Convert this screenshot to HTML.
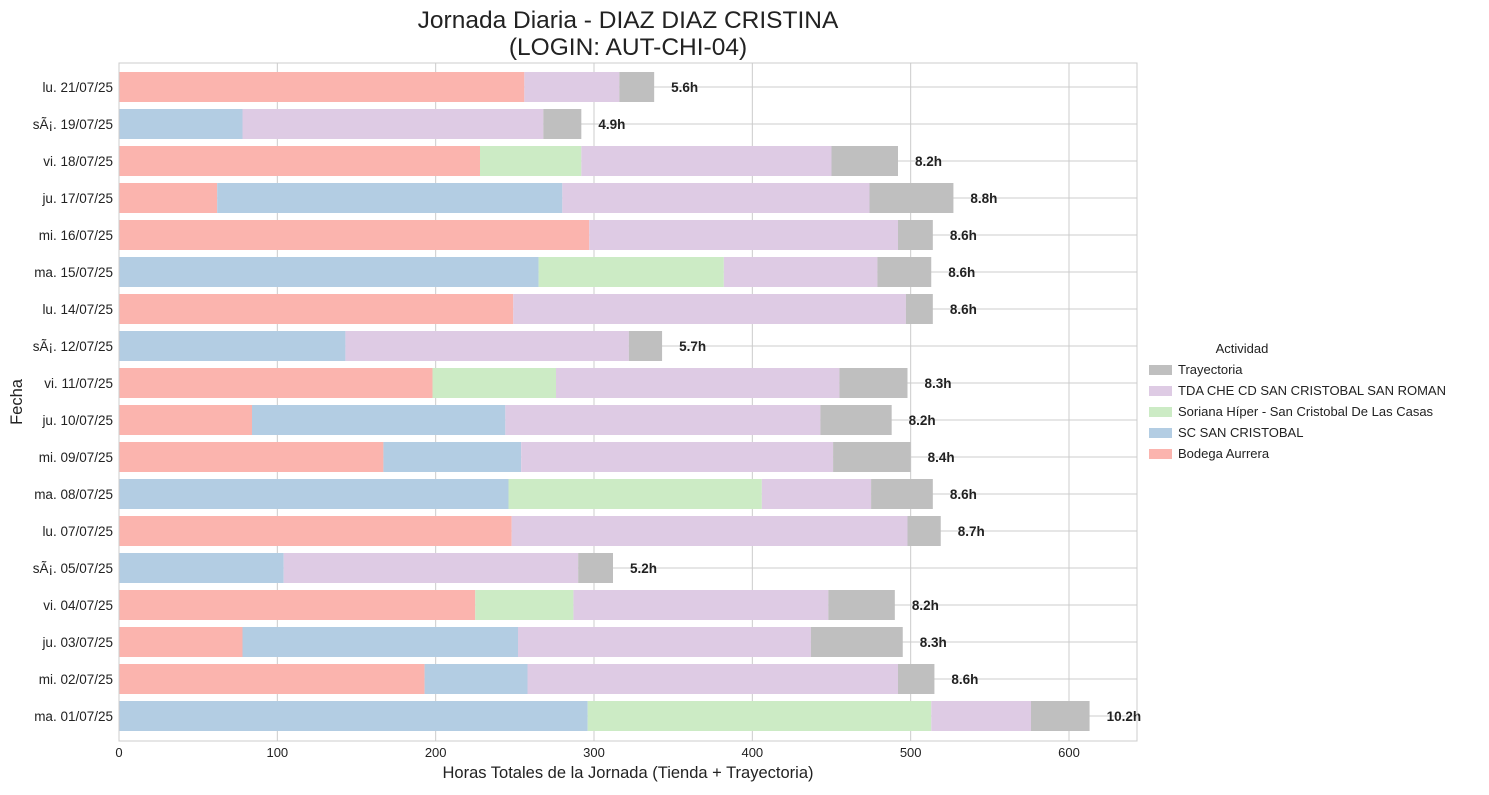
<!DOCTYPE html>
<html><head><meta charset="utf-8"><style>
body{margin:0;background:#fff;font-family:"Liberation Sans","DejaVu Sans",sans-serif;}
svg text{font-family:"Liberation Sans","DejaVu Sans",sans-serif;}
</style></head><body>
<svg id="chart" width="1489" height="790" xmlns="http://www.w3.org/2000/svg">
<rect x="0" y="0" width="1489" height="790" fill="#fff"/>
<text x="628" y="28" font-size="24.5" text-anchor="middle" fill="#222">Jornada Diaria - DIAZ DIAZ CRISTINA</text>
<text x="628" y="55" font-size="24.5" text-anchor="middle" fill="#222">(LOGIN: AUT-CHI-04)</text>
<g id="grid"></g>
<g id="bars"></g>
<g id="axes"></g>
<text x="628" y="778" font-size="16.5" text-anchor="middle" fill="#222">Horas Totales de la Jornada (Tienda + Trayectoria)</text>
<text x="22" y="402" font-size="16.5" text-anchor="middle" fill="#222" transform="rotate(-90 22 402)">Fecha</text>
<g id="legend"></g>
</svg>
<script>
const categories=["lu. 21/07/25","sÃ¡. 19/07/25","vi. 18/07/25","ju. 17/07/25","mi. 16/07/25","ma. 15/07/25","lu. 14/07/25","sÃ¡. 12/07/25","vi. 11/07/25","ju. 10/07/25","mi. 09/07/25","ma. 08/07/25","lu. 07/07/25","sÃ¡. 05/07/25","vi. 04/07/25","ju. 03/07/25","mi. 02/07/25","ma. 01/07/25"];
const bodega=[256,0,228,62,297,0,249,0,198,84,167,0,248,0,225,78,193,0];
const scSan=[0,78,0,218,0,265,0,143,0,160,87,246,0,104,0,174,65,296];
const soriana=[0,0,64,0,0,117,0,0,78,0,0,160,0,0,62,0,0,217];
const tdaChe=[60,190,158,194,195,97,248,179,179,199,197,69,250,186,161,185,234,63];
const trayectoria=[22,24,42,53,22,34,17,21,43,45,49,39,21,22,42,58,23,37];
const totalLabels=["5.6h","4.9h","8.2h","8.8h","8.6h","8.6h","8.6h","5.7h","8.3h","8.2h","8.4h","8.6h","8.7h","5.2h","8.2h","8.3h","8.6h","10.2h"];
const xTicks=[0,100,200,300,400,500,600];
const seriesNames=["Bodega Aurrera","SC SAN CRISTOBAL","Soriana Híper - San Cristobal De Las Casas","TDA CHE CD SAN CRISTOBAL SAN ROMAN","Trayectoria"];
const seriesColors=["#fbb4ae","#b3cde3","#ccebc5","#decbe4","#bfbfbf"];
const seriesData=[bodega,scSan,soriana,tdaChe,trayectoria];
const NS="http://www.w3.org/2000/svg";
const L=119,R=1137,T=63,B=741;
const xs=v=>L+v*(950/600);
const rowStep=37,firstY=87,barH=30;
const ys=i=>firstY+i*rowStep;
function mk(tag,attrs,parent){const e=document.createElementNS(NS,tag);for(const k in attrs)e.setAttribute(k,attrs[k]);parent.appendChild(e);return e;}
const grid=document.getElementById('grid'),bars=document.getElementById('bars'),axes=document.getElementById('axes'),legend=document.getElementById('legend');
xTicks.forEach(t=>{
 const l=mk('line',{x1:xs(t),x2:xs(t),y1:T,y2:B,stroke:'#cccccc','stroke-width':1},grid);
 
 
 const tx=mk('text',{x:xs(t),y:B+16,'font-size':13,'text-anchor':'middle',fill:'#222'},axes);
 tx.textContent=t;
 
 
});
categories.forEach((c,i)=>{
 const l=mk('line',{x1:L,x2:R,y1:ys(i),y2:ys(i),stroke:'#cccccc','stroke-width':1},grid);
 
 
 const tx=mk('text',{x:113,y:ys(i)+5,'font-size':13.5,'text-anchor':'end',fill:'#222'},axes);
 tx.textContent=c;
 
 
 let acc=0;
 seriesData.forEach((arr,s)=>{
  const v=arr[i];
  if(v>0){
   const r=mk('rect',{x:xs(acc),y:ys(i)-barH/2,width:xs(acc+v)-xs(acc),height:barH,fill:seriesColors[s]},bars);
   
   
  }
  acc+=v;
 });
 const lt=mk('text',{x:xs(acc)+17,y:ys(i)+5,'font-size':13.5,'font-weight':'bold',fill:'#222'},bars);
 lt.textContent=totalLabels[i];
 
 
});
const frame=mk('rect',{x:L,y:T,width:R-L,height:B-T,fill:'none',stroke:'#cccccc','stroke-width':1},axes);


const lt=mk('text',{x:1242,y:353,'font-size':13,'text-anchor':'middle',fill:'#222'},legend);
lt.textContent='Actividad';


[4,3,2,1,0].forEach((s,k)=>{
 const y=369+k*21;
 const p=mk('rect',{x:1149,y:y-4,width:23,height:10,fill:seriesColors[s]},legend);
 
 
 const t=mk('text',{x:1178,y:y+5,'font-size':13,fill:'#222'},legend);
 t.textContent=seriesNames[s];
 
 
});
</script>
</body></html>
